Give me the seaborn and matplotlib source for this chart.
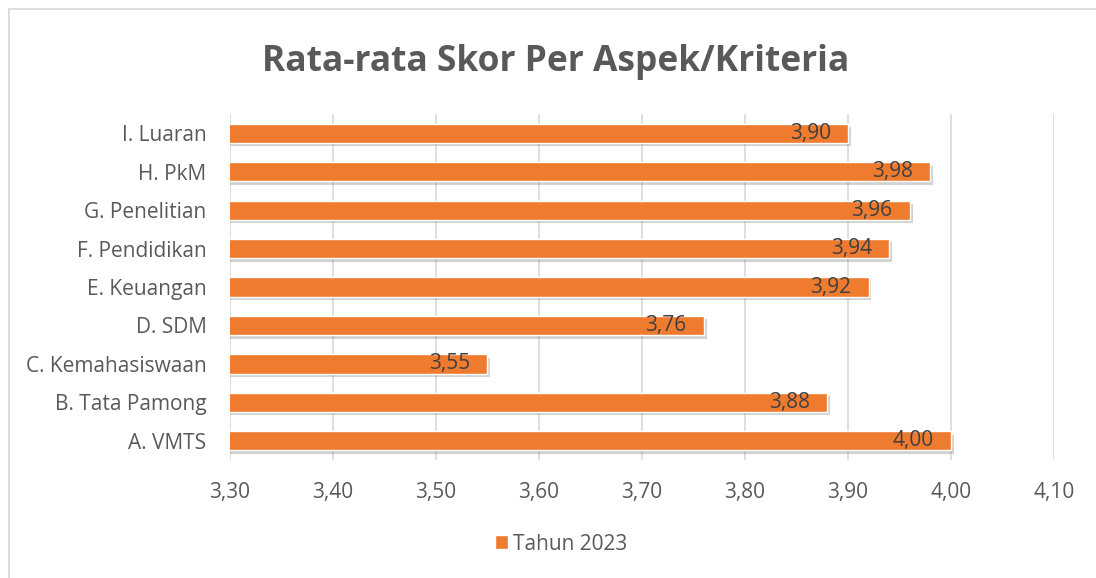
import matplotlib
matplotlib.use("Agg")
import matplotlib.pyplot as plt
import matplotlib.patheffects as pe
import seaborn as sns
import pandas as pd
from matplotlib.patches import Rectangle

categories = ["I. Luaran", "H. PkM", "G. Penelitian", "F. Pendidikan", "E. Keuangan",
              "D. SDM", "C. Kemahasiswaan", "B. Tata Pamong", "A. VMTS"]
values = [3.90, 3.98, 3.96, 3.94, 3.92, 3.76, 3.55, 3.88, 4.00]
series_name = "Tahun 2023"
xticks = [3.30, 3.40, 3.50, 3.60, 3.70, 3.80, 3.90, 4.00, 4.10]
title = "Rata-rata Skor Per Aspek/Kriteria"

sns.set_style("white")
plt.rcParams['font.family'] = ['Open Sans', 'DejaVu Sans']

df = pd.DataFrame({"Kriteria": categories, "Skor": values, "Seri": series_name})

fig = plt.figure(figsize=(10.96, 5.78), dpi=100)
ax = fig.add_axes([230/1096, 1-460/578, (1054-230)/1096, (460-114)/578])

orange = "#EF7B2F"
sns.barplot(data=df, y="Kriteria", x="Skor", hue="Seri", palette=[orange],
            orient="h", width=0.5, ax=ax, order=categories, legend=True,
            saturation=1)

for c in ax.containers:
    for bar in c.patches:
        bar.set_path_effects([pe.SimplePatchShadow(offset=(2, -2.5), shadow_rgbFace="#7F7F7F",
                                                   alpha=0.35), pe.Normal()])

ax.set_xlim(3.30, 4.10)
ax.set_xticks(xticks)
ax.set_xticklabels([f"{t:.2f}".replace(".", ",") for t in xticks])
ax.grid(axis="x", color="#D9D9D9", linewidth=1.2)
ax.set_axisbelow(True)
for s in ax.spines.values():
    s.set_visible(False)
ax.set_xlabel("")
ax.set_ylabel("")
ax.tick_params(axis="both", length=0, labelsize=15, labelcolor="#595959")
ax.tick_params(axis="y", pad=17)
ax.tick_params(axis="x", pad=16)

for c in ax.containers:
    for bar, v in zip(c.patches, c.datavalues):
        ax.annotate(f"{v:.2f}".replace(".", ","),
                    xy=(bar.get_x() + bar.get_width(), bar.get_y() + bar.get_height() / 2),
                    xytext=(-12.5, 0), textcoords="offset points",
                    ha="right", va="center", fontsize=15, color="#404040")

leg = ax.legend(loc="center", bbox_to_anchor=(561/1096, 1-544/578),
                bbox_transform=fig.transFigure, frameon=False,
                fontsize=15, handlelength=0.65, handleheight=0.65, handletextpad=0.25,
                borderaxespad=0, borderpad=0)
for t in leg.get_texts():
    t.set_color("#595959")

fig.text(556/1096, 1-62/578, title, ha="center", va="center", fontsize=25.5,
         fontweight="bold", color="#595959")

fig.patches.append(Rectangle((8.5/1096, -0.1), 1.2, 1-9/578+0.1, transform=fig.transFigure,
                             fill=False, edgecolor="#D9D9D9", linewidth=1.3))

fig.savefig("out.png", dpi=100)
